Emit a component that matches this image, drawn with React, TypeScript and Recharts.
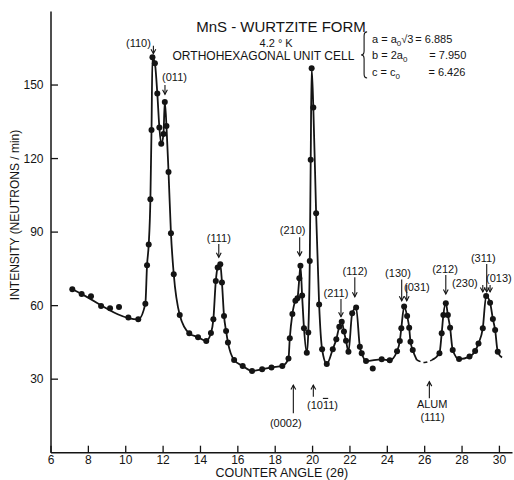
import React from 'react';
import { ComposedChart, Line, Scatter, XAxis, YAxis, ReferenceLine, ReferenceDot } from 'recharts';

const FONT = "'Liberation Sans', Arial, 'DejaVu Sans', sans-serif";
const INK = '#141414';

// measured points: counter angle (2θ, degrees) and intensity (neutrons / min)
const angles = [
  7.14, 7.64, 8.14, 8.68, 9.16, 9.64, 10.14, 10.67, 11.05, 11.14,
  11.23, 11.32, 11.38, 11.43, 11.56, 11.69, 11.8, 11.9, 12.02, 12.09,
  12.18, 12.29, 12.42, 12.57, 12.89, 13.4, 13.87, 14.31, 14.56, 14.69,
  14.82, 14.92, 15.06, 15.15, 15.26, 15.37, 15.47, 15.8, 16.26, 16.76,
  17.3, 17.8, 18.38, 18.71, 18.78, 18.92, 19.08, 19.19, 19.29, 19.35,
  19.44, 19.54, 19.69, 19.77, 19.85, 19.9, 19.95, 20.04, 20.19, 20.35,
  20.51, 20.76, 21.08, 21.27, 21.43, 21.56, 21.68, 21.79, 21.92, 22.12,
  22.33, 22.53, 22.63, 22.86, 23.22, 23.7, 24.13, 24.52, 24.67, 24.75,
  24.9, 25.06, 25.17, 25.24, 25.36, 26.79, 26.91, 27.0, 27.13, 27.24,
  27.36, 27.5, 27.84, 28.4, 28.7, 28.88, 29.11, 29.29, 29.5, 29.65,
  29.77, 29.91,
];
const counts = [
  66.7, 64.7, 63.8, 59.9, 58.9, 59.4, 55.2, 54.4, 60.8, 76.5,
  84.9, 103.4, 131.7, 161.3, 158.9, 146.5, 132.7, 126, 130, 143.1,
  133.3, 114.5, 89.5, 72.8, 56.2, 48.7, 47.1, 45.6, 48.8, 54.4,
  70, 75.6, 76.9, 69.4, 55.8, 49.7, 45, 37.8, 35.4, 33.3,
  34, 34.8, 35.4, 38.4, 46.7, 56.6, 62, 63, 71.2, 76.3,
  64.1, 50.8, 40.8, 49, 78.2, 119.5, 156.8, 140.8, 97.7, 60.5,
  42.2, 36.2, 42.2, 46.3, 51.4, 53.4, 49.4, 45.7, 41.2, 56.9,
  59.2, 43.2, 40.6, 37.4, 34.4, 38.1, 37.7, 41.4, 45.6, 50.8,
  59.6, 55.8, 51, 45.3, 41.9, 40.6, 48.7, 56.2, 61, 56.2,
  51, 41.9, 38.2, 39.2, 41.5, 44.6, 50.8, 63.9, 61.2, 54.5,
  50.1, 41.2,
];
// measured points that the hand-drawn curve passes beside
const offCurveAngles = [8.14, 8.68, 9.16, 9.64, 10.14, 23.22];
// dashed stretch of the curve under the aluminium (111) line
const dashAngles = [25.58, 26.0, 26.38];
const dashCounts = [37.8, 36.8, 37.8];
// where the curve ends past the last measured point
const tailAngle = 30.14;
const tailCount = 38.8;

const xTicks = [6, 8, 10, 12, 14, 16, 18, 20, 22, 24, 26, 28, 30];
const yTicks = [30, 60, 90, 120, 150];

// annotation texts (placed in data coordinates); over = index of a character with a bar over it
const labels = [
  { x: 18.31, y: 174.0, text: 'MnS - WURTZITE FORM', size: 15 },
  { x: 18.05, y: 167.2, text: '4.2 ° K', size: 11 },
  { x: 17.37, y: 162.1, text: 'ORTHOHEXAGONAL UNIT CELL', size: 12 },
  { x: 10.68, y: 167.2, text: '(110)', size: 11 },
  { x: 12.61, y: 153.4, text: '(011)', size: 11 },
  { x: 14.98, y: 87.7, text: '(111)', size: 11 },
  { x: 18.93, y: 90.9, text: '(210)', size: 11 },
  { x: 21.25, y: 65.3, text: '(211)', size: 11 },
  { x: 22.27, y: 74.1, text: '(112)', size: 11 },
  { x: 24.57, y: 73.2, text: '(130)', size: 11 },
  { x: 25.58, y: 67.5, text: '(031)', size: 11 },
  { x: 27.09, y: 75.0, text: '(212)', size: 11 },
  { x: 28.15, y: 69.4, text: '(230)', size: 11 },
  { x: 29.14, y: 79.6, text: '(311)', size: 11 },
  { x: 29.97, y: 71.4, text: '(013)', size: 11 },
  { x: 18.57, y: 12.2, text: '(0002)', size: 11 },
  { x: 20.53, y: 19.5, text: '(1011)', size: 11, over: 3 },
  { x: 26.4, y: 19.9, text: 'ALUM', size: 11 },
  { x: 26.42, y: 14.7, text: '(111)', size: 11 },
];

const arrows = [
  { from: [11.48, 166.0], to: [11.48, 162.8], head: true },
  { from: [12.1, 150.0], to: [12.1, 146.2], head: true },
  { from: [14.98, 85.1], to: [14.98, 79.7], head: true },
  { from: [19.31, 87.9], to: [19.31, 80.3], head: true },
  { from: [21.52, 62.7], to: [21.52, 55.5], head: true },
  { from: [22.26, 71.6], to: [22.26, 63.6], head: true },
  { from: [24.77, 70.7], to: [24.77, 62.0], head: true },
  { from: [25.04, 68.4], to: [25.04, 62.0], head: true },
  { from: [27.13, 72.5], to: [27.13, 64.7], head: true },
  { from: [29.11, 68.4], to: [29.11, 65.6], head: true },
  { from: [29.32, 68.4], to: [29.32, 65.6], head: true },
  { from: [29.5, 68.4], to: [29.5, 65.6], head: true },
  { from: [29.32, 77.0], to: [29.32, 68.4], head: false },
  { from: [18.97, 16.1], to: [18.97, 27.6], head: true },
  { from: [20.04, 22.8], to: [20.04, 27.6], head: true },
  { from: [26.25, 22.2], to: [26.25, 29.0], head: true },
];

const equations = [
  { x: 23.18, y: 168.9, lhs: 'a = a', sub: '0', tail: '\u221A3', vx: 25.5, value: '= 6.885' },
  { x: 23.18, y: 162.1, lhs: 'b = 2a', sub: '0', tail: '', vx: 26.25, value: '= 7.950' },
  { x: 23.18, y: 155.4, lhs: 'c = c', sub: '0', tail: '', vx: 26.2, value: '= 6.426' },
];
const brace = { x: 22.65, y: 162.3 };
const yTitle = { x: 4.07, y: 97.0, text: 'INTENSITY (NEUTRONS / min)' };

const dots = angles.map((x, i) => ({ x, y: counts[i] }));
const solidA = dots
  .filter((d) => d.x < 25.5 && !offCurveAngles.includes(d.x))
  .concat([{ x: dashAngles[0], y: dashCounts[0] }]);
const dashed = dashAngles.map((x, i) => ({ x, y: dashCounts[i] }));
const solidB = [{ x: dashAngles[dashAngles.length - 1], y: dashCounts[dashCounts.length - 1] }]
  .concat(dots.filter((d) => d.x > 26))
  .concat([{ x: tailAngle, y: tailCount }]);

const textShape = (text: string, size: number, rotate = false, over?: number) => (p: any) => (
  <text
    x={p.cx}
    y={p.cy}
    dy="0.36em"
    textAnchor="middle"
    fontSize={size}
    fontFamily={FONT}
    fill={INK}
    transform={rotate ? `rotate(-90 ${p.cx} ${p.cy})` : undefined}
  >
    {over === undefined ? (
      text
    ) : (
      <>
        {text.slice(0, over)}
        <tspan style={{ textDecoration: 'overline' }}>{text.charAt(over)}</tspan>
        {text.slice(over + 1)}
      </>
    )}
  </text>
);

const eqShape = (eq: any) => (p: any) => (
  <text x={p.cx} y={p.cy} dy="0.36em" fontSize={11} fontFamily={FONT} fill={INK}>
    {eq.lhs}
    <tspan fontSize={8} dy={3}>{eq.sub}</tspan>
    <tspan dy={-3}>{eq.tail}</tspan>
  </text>
);

const valShape = (text: string) => (p: any) => (
  <text x={p.cx} y={p.cy} dy="0.36em" fontSize={11} fontFamily={FONT} fill={INK}>
    {text}
  </text>
);

const braceShape = (p: any) => {
  const x = p.cx;
  const y = p.cy;
  const d = `M${x + 5},${y - 23} Q${x + 2},${y - 23} ${x + 2},${y - 19} L${x + 2},${y - 4} Q${x + 2},${y} ${x - 1},${y} Q${x + 2},${y} ${x + 2},${y + 4} L${x + 2},${y + 19} Q${x + 2},${y + 23} ${x + 5},${y + 23}`;
  return <path d={d} fill="none" stroke={INK} strokeWidth={1.1} />;
};

const arrowShape = (head: boolean) => (p: any) => {
  const { x1, y1, x2, y2 } = p;
  const ang = Math.atan2(y2 - y1, x2 - x1);
  const L = 4.5;
  const W = 2.4;
  const bx = x2 - L * Math.cos(ang);
  const by = y2 - L * Math.sin(ang);
  const nx = -Math.sin(ang) * W;
  const ny = Math.cos(ang) * W;
  return (
    <g>
      <line x1={x1} y1={y1} x2={x2} y2={y2} stroke={INK} strokeWidth={1.1} />
      {head && (
        <path
          d={`M${bx + nx},${by + ny} L${x2},${y2} L${bx - nx},${by - ny}`}
          fill="none"
          stroke={INK}
          strokeWidth={1.1}
        />
      )}
    </g>
  );
};

const dotShape = (p: any) => <circle cx={p.cx} cy={p.cy} r={3} fill={INK} />;

const axisLine = { stroke: INK, strokeWidth: 1.5 };
const tickLine = { stroke: INK, strokeWidth: 1.3 };
const tickFont = { fontSize: 12, fill: INK, fontFamily: FONT };

export default function App() {
  return (
    <div style={{ position: 'absolute', left: 0, top: 0, width: 514, height: 480, background: '#fff' }}>
      <ComposedChart width={514} height={480} margin={{ top: 11.5, right: 1.5, bottom: 0, left: 0 }}>
        <XAxis
          dataKey="x"
          type="number"
          domain={[6, 30.7]}
          ticks={xTicks}
          allowDataOverflow
          height={27.3}
          tickSize={-7}
          tickMargin={9.5}
          axisLine={axisLine}
          tickLine={tickLine}
          tick={tickFont}
          label={{ value: 'COUNTER ANGLE (2\u03B8)', position: 'insideBottom', offset: 3.5, fontSize: 12.5, fill: INK, fontFamily: FONT }}
        />
        <XAxis
          xAxisId="top"
          orientation="top"
          type="number"
          domain={[6, 30.7]}
          ticks={xTicks}
          allowDataOverflow
          height={0}
          tickSize={-7}
          axisLine={axisLine}
          tickLine={tickLine}
          tick={false}
        />
        <YAxis
          type="number"
          domain={[0, 180]}
          ticks={yTicks}
          allowDataOverflow
          width={51}
          tickSize={-7}
          tickMargin={14.5}
          axisLine={axisLine}
          tickLine={tickLine}
          tick={tickFont}
        />
        <YAxis
          yAxisId="right"
          orientation="right"
          type="number"
          domain={[0, 180]}
          ticks={yTicks}
          allowDataOverflow
          width={0}
          tickSize={-7}
          axisLine={axisLine}
          tickLine={tickLine}
          tick={false}
        />
        <Line data={solidA} dataKey="y" type="monotone" stroke={INK} strokeWidth={1.8} dot={false} activeDot={false} isAnimationActive={false} />
        <Line data={dashed} dataKey="y" type="monotone" stroke={INK} strokeWidth={1.5} strokeDasharray="4 3" dot={false} activeDot={false} isAnimationActive={false} />
        <Line data={solidB} dataKey="y" type="monotone" stroke={INK} strokeWidth={1.8} dot={false} activeDot={false} isAnimationActive={false} />
        <Scatter data={dots} dataKey="y" shape={dotShape} isAnimationActive={false} />
        {arrows.map((a, i) => (
          <ReferenceLine
            key={`ar${i}`}
            segment={[{ x: a.from[0], y: a.from[1] }, { x: a.to[0], y: a.to[1] }]}
            shape={arrowShape(a.head)}
            ifOverflow="visible"
          />
        ))}
        {labels.map((l, i) => (
          <ReferenceDot key={`lb${i}`} x={l.x} y={l.y} r={0} ifOverflow="visible" shape={textShape(l.text, l.size, false, (l as any).over)} />
        ))}
        {equations.map((e, i) => (
          <ReferenceDot key={`eq${i}`} x={e.x} y={e.y} r={0} ifOverflow="visible" shape={eqShape(e)} />
        ))}
        {equations.map((e, i) => (
          <ReferenceDot key={`ev${i}`} x={e.vx} y={e.y} r={0} ifOverflow="visible" shape={valShape(e.value)} />
        ))}
        <ReferenceDot x={brace.x} y={brace.y} r={0} ifOverflow="visible" shape={braceShape} />
        <ReferenceDot x={yTitle.x} y={yTitle.y} r={0} ifOverflow="visible" shape={textShape(yTitle.text, 12, true)} />
      </ComposedChart>
    </div>
  );
}
